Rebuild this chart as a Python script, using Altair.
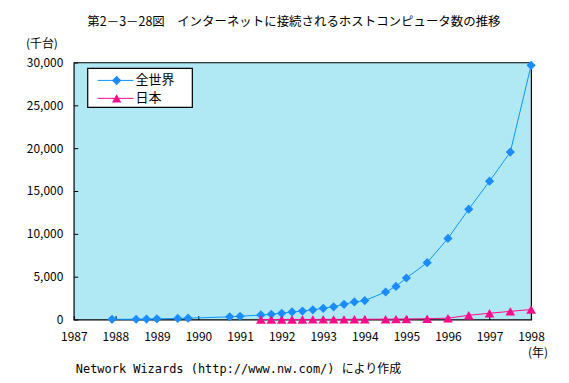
import altair as alt
import pandas as pd

# ---- data (thousands of hosts) ----
world_year = [1987.92, 1988.5, 1988.75, 1989.0, 1989.5, 1989.75, 1990.75, 1991.0,
              1991.5, 1991.75, 1992.0, 1992.25, 1992.5, 1992.75, 1993.0, 1993.25,
              1993.5, 1993.75, 1994.0, 1994.5, 1994.75, 1995.0, 1995.5, 1996.0,
              1996.5, 1997.0, 1997.5, 1998.0]
world_hosts = [28, 33, 56, 80, 130, 159, 313, 376,
               535, 617, 727, 890, 992, 1136, 1313, 1486,
               1776, 2056, 2217, 3212, 3864, 4852, 6642, 9472,
               12881, 16146, 19540, 29670]

japan_year = [1991.5, 1991.75, 1992.0, 1992.25, 1992.5, 1992.75, 1993.0, 1993.25,
              1993.5, 1993.75, 1994.0, 1994.5, 1994.75, 1995.0, 1995.5, 1996.0,
              1996.5, 1997.0, 1997.5, 1998.0]
japan_hosts = [5, 7, 9, 11, 13, 16, 19, 22,
               25, 29, 33, 42, 53, 72, 99, 160,
               496, 734, 956, 1169]

series_names = ["全世界", "日本"]
series_colors = ["#1a8cff", "#ff0a8c"]
line_colors = ["#0a96ff", "#ff0a8c"]
series_shapes = ["diamond", "triangle-up"]

x_ticks = list(range(1987, 1999))
y_ticks = [0, 5000, 10000, 15000, 20000, 25000, 30000]

title_text = "第2－3－28図　インターネットに接続されるホストコンピュータ数の推移"
y_unit = "(千台)"
x_unit = "(年)"
source_text = "Network Wizards (http://www.nw.com/) により作成"

FONT = "Noto Sans CJK JP"
MONO = "DejaVu Sans Mono, Noto Sans CJK JP"
BG = "#b0e9f4"

W, H = 459, 258

world = pd.DataFrame({"year": world_year, "hosts": world_hosts})
japan = pd.DataFrame({"year": japan_year, "hosts": japan_hosts})

xscale = alt.Scale(domain=[1987, 1998], nice=False, zero=False)
yscale = alt.Scale(domain=[0, 30000], nice=False)

xaxis = alt.Axis(values=x_ticks, format="d", title=None, grid=False, domain=False,
                 tickSize=4, offset=-4, tickColor="black", labelPadding=12,
                 labelFont=FONT, labelFontSize=12, labelColor="black",
                 labelFlush=False, labelOverlap=False)
yaxis = alt.Axis(values=y_ticks, format=",d", title=None, grid=False, domain=False,
                 tickSize=4, offset=-4, tickColor="black", labelPadding=11,
                 labelFont=FONT, labelFontSize=12, labelColor="black")


def series_layers(df, color, lcolor, shape, size):
    base = alt.Chart(df).encode(
        x=alt.X("year:Q", scale=xscale, axis=xaxis),
        y=alt.Y("hosts:Q", scale=yscale, axis=yaxis),
    )
    line = base.mark_line(color=lcolor, strokeWidth=1)
    pts = base.mark_point(shape=shape, filled=True, size=size, color=color, opacity=1)
    return [line, pts]


layers = []
layers += series_layers(world, series_colors[0], line_colors[0], series_shapes[0], 85)
layers += series_layers(japan, series_colors[1], line_colors[1], series_shapes[1], 95)

one = pd.DataFrame({"a": [0]})

# legend box
layers.append(alt.Chart(one).mark_rect(fill="white", stroke="black", strokeWidth=1.2).encode(
    x=alt.value(14), x2=alt.value(119), y=alt.value(6), y2=alt.value(45)))

legend_rows = [18, 36]
for i, name in enumerate(series_names):
    yy = legend_rows[i]
    layers.append(alt.Chart(one).mark_rule(color=line_colors[i], strokeWidth=1).encode(
        x=alt.value(24), x2=alt.value(60), y=alt.value(yy)))
    layers.append(alt.Chart(one).mark_point(shape=series_shapes[i], filled=True,
                                            size=90, color=series_colors[i], opacity=1).encode(
        x=alt.value(43), y=alt.value(yy)))
    layers.append(alt.Chart(pd.DataFrame({"label": [name]})).mark_text(
        font=FONT, fontSize=13, align="left", baseline="middle", color="black").encode(
        x=alt.value(62), y=alt.value(yy), text="label:N"))

# title & annotations
def label(txt, x, y, size=12, align="left", font=FONT):
    return alt.Chart(pd.DataFrame({"t": [txt]})).mark_text(
        font=font, fontSize=size, align=align, baseline="middle", color="black").encode(
        x=alt.value(x), y=alt.value(y), text="t:N")

layers.append(label(title_text, 221, -41, size=12.5, align="center"))
layers.append(label(y_unit, -48, -19, size=12))
layers.append(label(x_unit, 466, 292, size=12, align="center"))
layers.append(label(source_text, 2, 308, size=12, font=MONO))

chart = alt.layer(*layers).properties(
    width=W, height=H,
    autosize=alt.AutoSizeParams(type="none"),
    padding={"left": 66, "top": 54, "right": 30, "bottom": 60},
    background="white",
).configure_view(stroke="black", strokeWidth=1.2, fill=BG)

chart.save("out.html", embed_options={"renderer": "svg", "actions": False})
